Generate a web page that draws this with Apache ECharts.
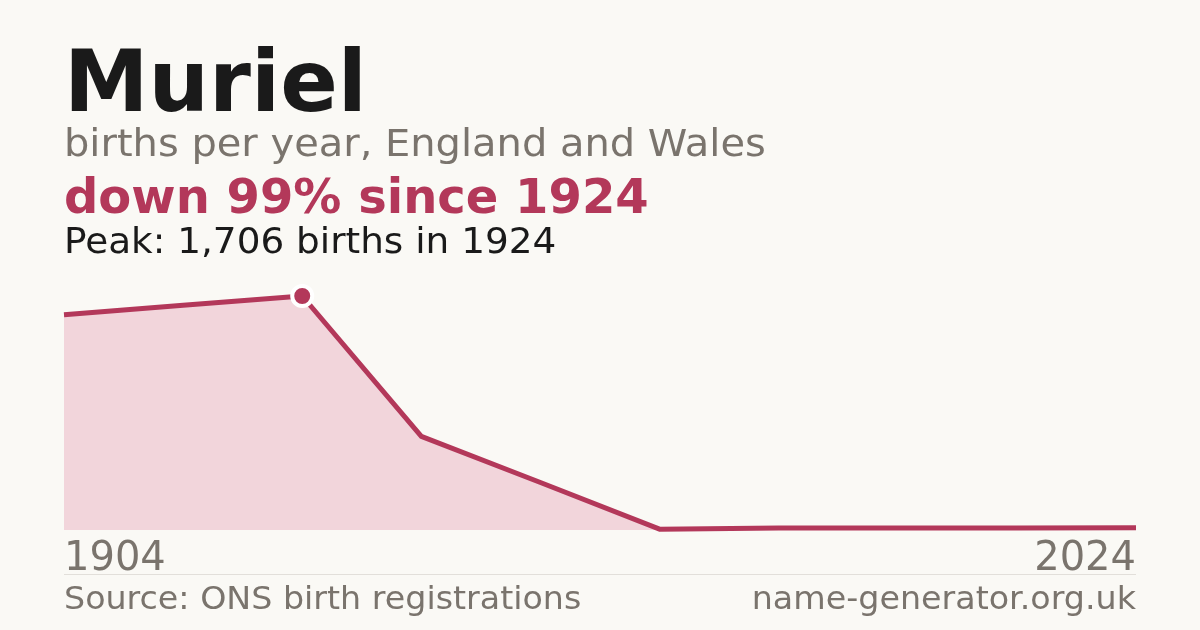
<!DOCTYPE html>
<html>
<head>
<meta charset="utf-8">
<script src="https://cdn.jsdelivr.net/npm/echarts@6/dist/echarts.min.js"></script>
<style>
  html, body { margin: 0; padding: 0; background: #faf9f5; }
  #chart { width: 1200px; height: 630px; }
</style>
</head>
<body>
<div id="chart"></div>
<script>
// births per year for Muriel
var years = ['1904', '1914', '1924', '1934', '1944', '1954', '1964', '1974', '1984', '2024'];
var births = [1570, 1638, 1706, 682, 346, 6, 14, 15, 14, 17];
var peakIndex = 2;

var red = '#b3385a';
var grey = '#7a746d';
var font = 'DejaVu Sans';

var chart = echarts.init(document.getElementById('chart'));

// text helper, x/y is the left (or right) top corner
function label(text, x, y, size, color, bold, sx, align) {
  return {
    type: 'text',
    x: x, y: y,
    scaleX: sx || 1,
    style: {
      text: text,
      fill: color,
      font: (bold ? 'bold ' : '') + size + 'px "DejaVu Sans"',
      align: align || 'left',
      verticalAlign: 'top'
    }
  };
}

var option = {
  backgroundColor: '#faf9f5',
  animation: false,
  grid: { left: 64, right: 64, top: 296, bottom: 100 },
  xAxis: {
    type: 'category',
    data: years,
    boundaryGap: false,
    axisLine: { show: false },
    axisTick: { show: false },
    splitLine: { show: false },
    axisLabel: {
      color: grey,
      fontFamily: font,
      fontSize: 40,
      margin: 10,
      alignMinLabel: 'left',
      alignMaxLabel: 'right',
      interval: function (i) { return i === 0 || i === years.length - 1; }
    }
  },
  yAxis: {
    type: 'value',
    min: 0,
    max: 'dataMax',
    show: false
  },
  series: [
    {
      type: 'line',
      data: births,
      clip: false,
      symbol: 'circle',
      showAllSymbol: true,
      symbolSize: function (v, p) { return p.dataIndex === peakIndex ? 20 : 0; },
      itemStyle: { color: red, borderColor: '#ffffff', borderWidth: 4 },
      lineStyle: { color: red, width: 5, join: 'round' },
      areaStyle: { color: '#f2d5db', opacity: 1 }
    }
  ],
  graphic: [
    label('Muriel', 64, 46, 85, '#1a1a1a', true),
    label('births per year, England and Wales', 64, 128, 37, grey, false, 1.08),
    label('down 99% since 1924', 64, 177, 48, red, true),
    label('Peak: 1,706 births in 1924', 64, 226, 36, '#1a1a1a', false, 1.038),
    { type: 'line', shape: { x1: 64, y1: 574.5, x2: 1136, y2: 574.5 }, style: { stroke: '#e2dfda', lineWidth: 1 } },
    label('Source: ONS birth registrations', 64, 585, 31.5, grey, false, 1.057),
    label('name-generator.org.uk', 1136, 585, 31.5, grey, false, 1.058, 'right')
  ]
};

chart.setOption(option);
</script>
</body>
</html>
